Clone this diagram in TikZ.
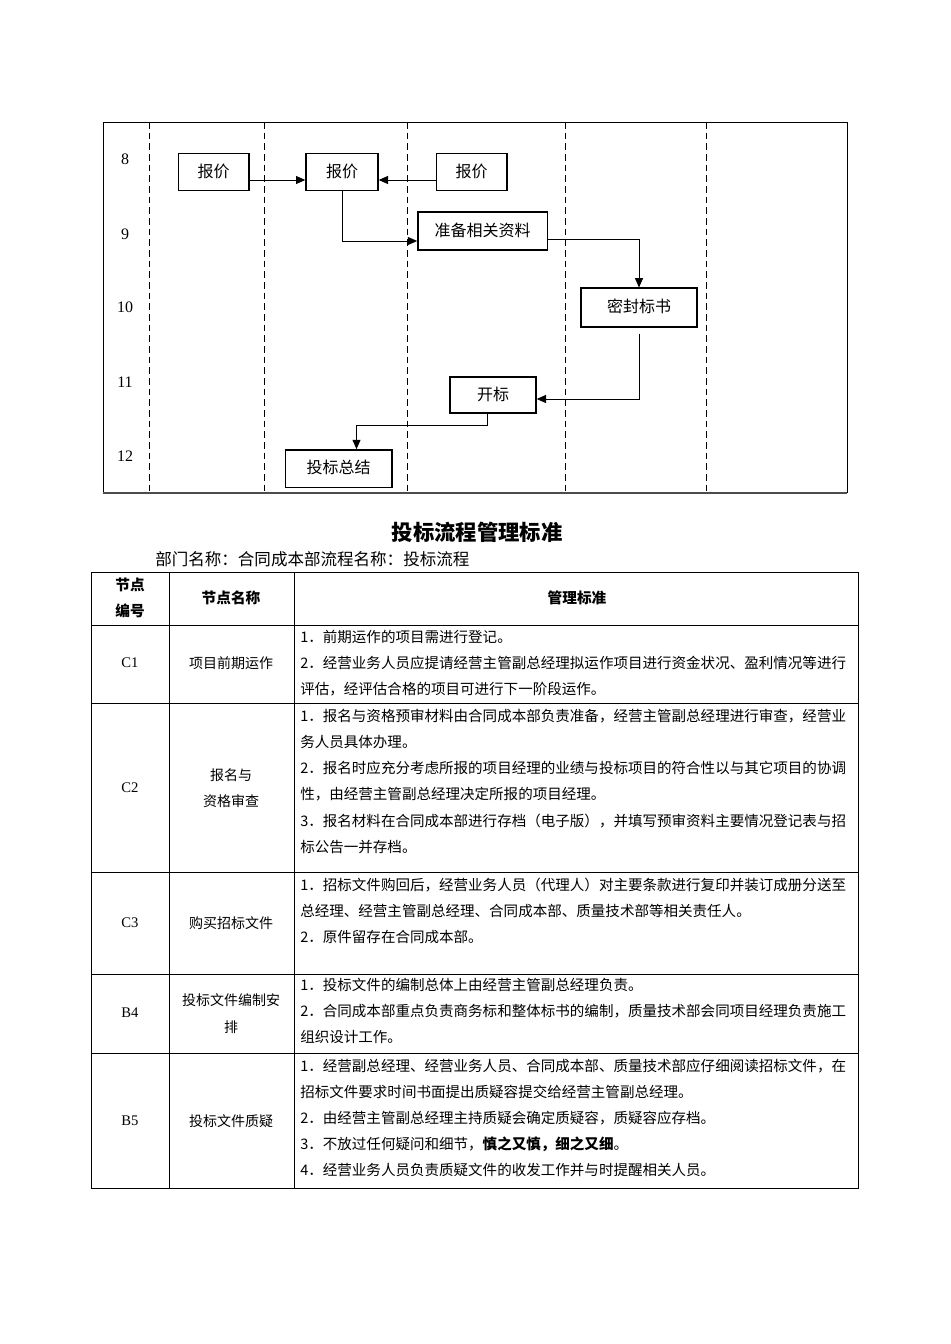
\documentclass[tikz,border=0pt]{standalone}
\usepackage{fontspec}
\setmainfont{Liberation Serif}
\newfontfamily\cjk{Noto Sans CJK SC}
\usetikzlibrary{arrows.meta}

\tikzset{
  flowbox/.style={draw, line width=1pt, inner sep=0pt, text depth=2pt,
    font=\cjk\fontsize{12}{14}\selectfont},
  flow/.style={line width=0.7pt, -{Triangle[length=7pt, width=6pt]}},
  lane/.style={line width=0.6pt, dash pattern=on 5pt off 3pt},
  rowno/.style={font=\fontsize{12}{14}\selectfont},
  headcell/.style={font=\cjk\bfseries\fontsize{11}{13}\selectfont},
  codecell/.style={font=\fontsize{11}{13}\selectfont},
  namecell/.style={font=\cjk\fontsize{10.5}{12}\selectfont},
  stdcell/.style={anchor=west, inner sep=0pt, font=\cjk\fontsize{10.9}{12}\selectfont}
}

\begin{document}
\begin{tikzpicture}[x=0.75pt, y=-0.75pt]
  \useasboundingbox (0,0) rectangle (950,1344);

  \draw[line width=0.7pt] (103,493) -- (103,122) -- (847,122) -- (847,493);
  \draw[line width=1.4pt, black!70] (103,493) -- (847,493);
  \foreach \x in {149,264,407,565,706}
    \draw[lane] (\x,122) -- (\x,493);
  \foreach \n/\y in {8/159, 9/234, 10/307, 11/382, 12/456}
    \node[rowno] (row-\n) at (125,\y) {\n};

  \node[flowbox, minimum width=53pt, minimum height=28pt] (quote-a) at (213.5,172) {报价};
  \node[flowbox, minimum width=54pt, minimum height=28pt] (quote-b) at (342,172) {报价};
  \node[flowbox, minimum width=53pt, minimum height=28pt] (quote-c) at (471.5,172) {报价};
  \node[flowbox, minimum width=97pt, minimum height=28.5pt] (prepare) at (482.5,231) {准备相关资料};
  \node[flowbox, minimum width=87pt, minimum height=29pt] (seal) at (639,307.5) {密封标书};
  \node[flowbox, minimum width=64.5pt, minimum height=27pt] (open) at (493,395) {开标};
  \node[flowbox, minimum width=80pt, minimum height=28pt] (summary) at (338.5,468.5) {投标总结};

  \draw[flow] ([yshift=-6pt]quote-a.east) -- ([yshift=-6pt]quote-b.west);
  \draw[flow] ([yshift=-6pt]quote-c.west) -- ([yshift=-6pt]quote-b.east);
  \draw[flow] (quote-b.south) |- ([yshift=-7.5pt]prepare.west);
  \draw[flow] ([yshift=-6pt]prepare.east) -| (seal.north);
  \draw[flow] ([yshift=-4.5pt]seal.south) |- ([yshift=-3pt]open.east);
  \draw[flow] ([xshift=-4.5pt]open.south) -- ++(0,12) -| ([xshift=13.5pt]summary.north);

  \node[font=\cjk\bfseries\fontsize{16}{18}\selectfont] (title) at (477,532) {投标流程管理标准};
  \node[anchor=west, inner sep=0pt, font=\cjk\fontsize{12.4}{14}\selectfont] (dept) at (155,559)
    {部门名称：合同成本部流程名称：投标流程};

  \draw[line width=0.7pt] (91,572) rectangle (858,1188);
  \foreach \y in {625,703,872,974,1053}
    \draw[line width=0.7pt] (91,\y) -- (858,\y);
  \foreach \x in {169,294}
    \draw[line width=0.7pt] (\x,572) -- (\x,1188);

  \node[headcell] (head-no-1) at (130,585) {节点};
  \node[headcell] (head-no-2) at (130,611) {编号};
  \node[headcell] (head-name) at (231,598) {节点名称};
  \node[headcell] (head-std) at (577,598) {管理标准};

  \foreach \c/\y in {C1/663, C2/788, C3/923, B4/1013, B5/1121}
    \node[codecell] (code-\c) at (130,\y) {\c};

  \node[namecell] (name-c1) at (231,663) {项目前期运作};
  \node[namecell] (name-c2-1) at (231,775) {报名与};
  \node[namecell] (name-c2-2) at (231,801) {资格审查};
  \node[namecell] (name-c3) at (231,923) {购买招标文件};
  \node[namecell] (name-b4-1) at (231,1000) {投标文件编制安};
  \node[namecell] (name-b4-2) at (231,1027) {排};
  \node[namecell] (name-b5) at (231,1121) {投标文件质疑};

  \foreach \t [count=\i from 0] in {
      {1．前期运作的项目需进行登记。},
      {2．经营业务人员应提请经营主管副总经理拟运作项目进行资金状况、盈利情况等进行},
      {评估，经评估合格的项目可进行下一阶段运作。}}
    \node[stdcell] (std-c1-\i) at (300,637+26*\i) {\t};
  \foreach \t [count=\i from 0] in {
      {1．报名与资格预审材料由合同成本部负责准备，经营主管副总经理进行审查，经营业},
      {务人员具体办理。},
      {2．报名时应充分考虑所报的项目经理的业绩与投标项目的符合性以与其它项目的协调},
      {性，由经营主管副总经理决定所报的项目经理。},
      {3．报名材料在合同成本部进行存档（电子版），并填写预审资料主要情况登记表与招},
      {标公告一并存档。}}
    \node[stdcell] (std-c2-\i) at (300,716+26.2*\i) {\t};
  \foreach \t [count=\i from 0] in {
      {1．招标文件购回后，经营业务人员（代理人）对主要条款进行复印并装订成册分送至},
      {总经理、经营主管副总经理、合同成本部、质量技术部等相关责任人。},
      {2．原件留存在合同成本部。}}
    \node[stdcell] (std-c3-\i) at (300,885+26*\i) {\t};
  \foreach \t [count=\i from 0] in {
      {1．投标文件的编制总体上由经营主管副总经理负责。},
      {2．合同成本部重点负责商务标和整体标书的编制，质量技术部会同项目经理负责施工},
      {组织设计工作。}}
    \node[stdcell] (std-b4-\i) at (300,985+26*\i) {\t};
  \foreach \t [count=\i from 0] in {
      {1．经营副总经理、经营业务人员、合同成本部、质量技术部应仔细阅读招标文件，在},
      {招标文件要求时间书面提出质疑容提交给经营主管副总经理。},
      {2．由经营主管副总经理主持质疑会确定质疑容，质疑容应存档。},
      {3．不放过任何疑问和细节，{\bfseries 慎之又慎，细之又细}。},
      {4．经营业务人员负责质疑文件的收发工作并与时提醒相关人员。}}
    \node[stdcell] (std-b5-\i) at (300,1066+26*\i) {\t};
\end{tikzpicture}
\end{document}
